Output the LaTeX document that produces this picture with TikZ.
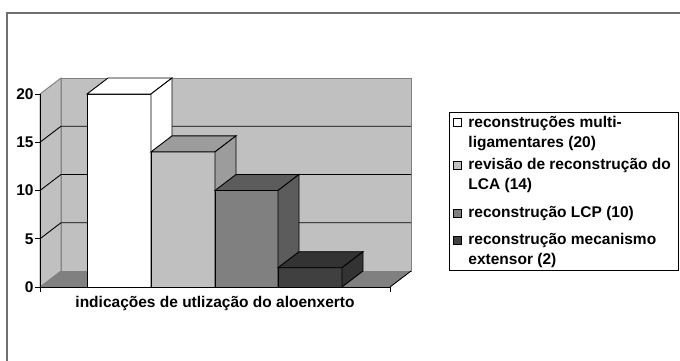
\documentclass[tikz,border=0pt]{standalone}
\usepackage{fontspec}
\setmainfont{Liberation Sans}
\usetikzlibrary{calc}

\definecolor{wall-gray}{HTML}{C0C0C0}
\definecolor{floor-gray}{HTML}{808080}
\definecolor{frame-gray}{HTML}{707070}
\definecolor{col-light}{HTML}{C0C0C0}
\definecolor{col-light-side}{HTML}{9C9C9C}
\definecolor{col-mid}{HTML}{808080}
\definecolor{col-mid-side}{HTML}{5C5C5C}
\definecolor{col-dark}{HTML}{404040}
\definecolor{col-dark-side}{HTML}{333333}

% front x0, front x1, value, front colour, side colour
\newcommand{\drawcolumn}[5]{%
\path[fill=#4, draw=black] (#1,287) rectangle (#2,{287-#3*9.65});
\path[fill=#5, draw=black] (#1,{287-#3*9.65}) -- ({#1+21},{271-#3*9.65}) -- ({#2+21},{271-#3*9.65}) -- (#2,{287-#3*9.65}) -- cycle;
\path[fill=#5, draw=black] (#2,{287-#3*9.65}) -- ({#2+21},{271-#3*9.65}) -- ({#2+21},271) -- (#2,287) -- cycle;
}

\begin{document}
\begin{tikzpicture}[x=1pt, y=-1pt, line width=0.9pt,
  ticklabel/.style={font=\fontsize{15.5}{18}\selectfont\bfseries, anchor=east, inner sep=0pt},
  legendtext/.style={font=\fontsize{15.5}{20}\selectfont\bfseries, anchor=north west, inner sep=0pt, align=left},
  legendkey/.style={draw=black, line width=0.6pt, minimum size=8pt, inner sep=0pt}]
\useasboundingbox (0,0) rectangle (680,361);

% outer frame
\draw[frame-gray, line width=2pt] (7,361) -- (7,13) -- (680,13);

% walls and floor
\path[fill=wall-gray, draw=floor-gray] (61,78) rectangle (411,271);
\path[fill=wall-gray, draw=floor-gray] (40,94) -- (61,78) -- (61,271) -- (40,287) -- cycle;
\path[fill=floor-gray] (40,287) -- (61,271) -- (411,271) -- (390,287) -- cycle;
\draw[black] (390,287) -- (411,271);

% grid lines
\foreach \v in {5,10,15} {
  \draw[black] (40,{287-\v*9.65}) -- (61,{271-\v*9.65}) -- (411,{271-\v*9.65});
}

% columns
\drawcolumn{87}{151}{20}{white}{white}
\drawcolumn{151}{215}{14}{col-light}{col-light-side}
\drawcolumn{215}{278}{10}{col-mid}{col-mid-side}
\drawcolumn{278}{342}{2}{col-dark}{col-dark-side}

% axes
\draw[black] (40,94) -- (40,287) -- (390,287);
\draw[black] (40,287) -- (40,292);
\draw[black] (390,287) -- (390,292);
\foreach \v in {0,5,10,15,20} {
  \draw[black] (35,{287-\v*9.65}) -- (40,{287-\v*9.65});
  \path (34,{287-\v*9.65}) node[ticklabel](tick-\v) {\v};
}

\path (215,303) node[font=\fontsize{15.5}{18}\selectfont\bfseries, inner sep=0pt](axis-title) {indicações de utlização do aloenxerto};

% legend
\path (449,112) node[draw=black, line width=0.8pt, minimum width=229pt, minimum height=158pt, anchor=north west](legend-box) {};
\path (457,122) node[legendkey, fill=white](key-multi) {};
\path (457,165) node[legendkey, fill=col-light](key-lca) {};
\path (457,213) node[legendkey, fill=col-mid](key-lcp) {};
\path (457,240) node[legendkey, fill=col-dark](key-ext) {};
\path (468,116) node[legendtext](txt-multi) {reconstruções multi-\\ligamentares (20)};
\path (468,158) node[legendtext](txt-lca) {revisão de reconstrução do\\LCA (14)};
\path (468,206) node[legendtext](txt-lcp) {reconstrução LCP (10)};
\path (468,233) node[legendtext](txt-ext) {reconstrução mecanismo\\extensor (2)};

\end{tikzpicture}
\end{document}
